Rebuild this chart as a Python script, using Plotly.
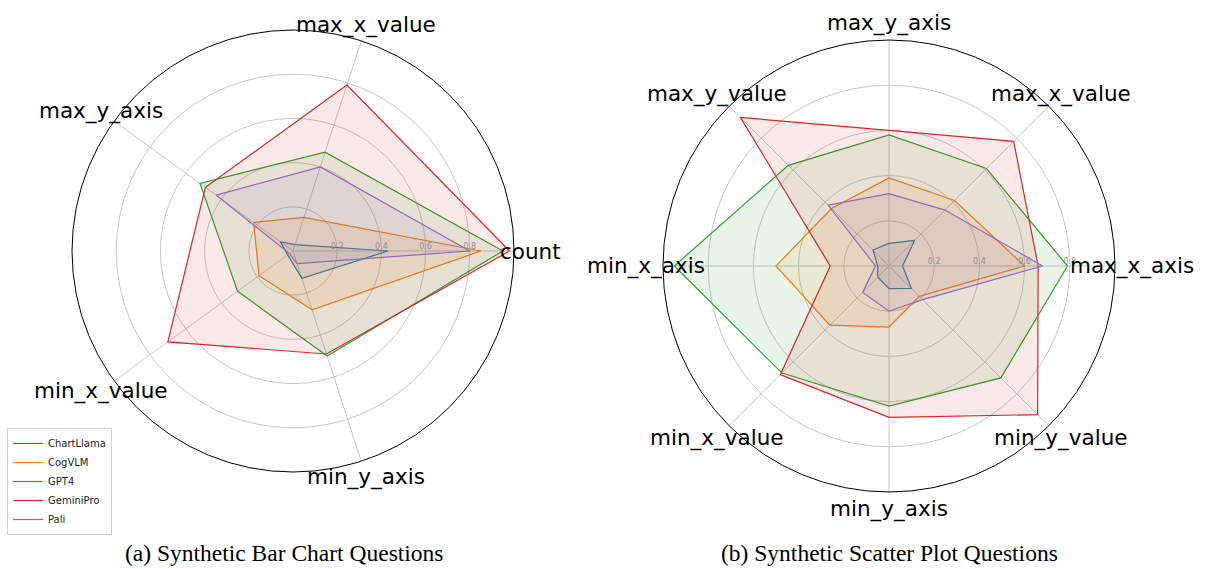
import math
import plotly.graph_objects as go

# ---------------- data ----------------
models = ["ChartLlama", "CogVLM", "GPT4", "GeminiPro", "Pali"]
colors = ["#1f77b4", "#ff7f0e", "#2ca02c", "#d62728", "#9467bd"]

bar_categories = ["count", "max_x_value", "max_y_axis", "min_x_value", "min_y_axis"]
bar_chartllama = [0.43, 0.03, 0.07, 0.03, 0.13]
bar_cogvlm = [0.85, 0.16, 0.22, 0.19, 0.28]
bar_gpt4 = [0.95, 0.47, 0.52, 0.31, 0.50]
bar_geminipro = [0.98, 0.79, 0.49, 0.70, 0.49]
bar_pali = [0.80, 0.40, 0.43, 0.02, 0.06]

scatter_categories = ["max_x_axis", "max_x_value", "max_y_axis", "max_y_value",
                      "min_x_axis", "min_x_value", "min_y_axis", "min_y_value"]
sc_chartllama = [0.06, 0.16, 0.10, 0.10, 0.05, 0.07, 0.10, 0.14]
sc_cogvlm = [0.60, 0.41, 0.39, 0.36, 0.50, 0.37, 0.27, 0.19]
sc_gpt4 = [0.79, 0.61, 0.58, 0.63, 0.95, 0.67, 0.62, 0.70]
sc_geminipro = [0.66, 0.78, 0.60, 0.93, 0.26, 0.68, 0.67, 0.93]
sc_pali = [0.68, 0.35, 0.32, 0.38, 0.06, 0.165, 0.20, 0.21]

radial_ticks = [0.2, 0.4, 0.6, 0.8]
captions = ["(a) Synthetic Bar Chart Questions", "(b) Synthetic Scatter Plot Questions"]

bar_series = [bar_chartllama, bar_cogvlm, bar_gpt4, bar_geminipro, bar_pali]
sc_series = [sc_chartllama, sc_cogvlm, sc_gpt4, sc_geminipro, sc_pali]

# ---------------- layout constants ----------------
W, H = 1205, 569
panels = [
    dict(cx=293, cy=251, R=221, cats=bar_categories, series=bar_series, name="polar", capx=284),
    dict(cx=889, cy=266, R=226, cats=scatter_categories, series=sc_series, name="polar2", capx=889),
]


def rgba(hexc, a):
    h = hexc.lstrip("#")
    return "rgba(%d,%d,%d,%.2f)" % (int(h[0:2], 16), int(h[2:4], 16), int(h[4:6], 16), a)


fig = go.Figure()
annotations = []
for pi, p in enumerate(panels):
    n = len(p["cats"])
    angles = [360.0 * i / n for i in range(n)]
    for mi, (m, vals) in enumerate(zip(models, p["series"])):
        r = list(vals) + [vals[0]]
        th = angles + [angles[0]]
        fig.add_trace(go.Scatterpolar(
            r=r, theta=th, mode="lines", fill="toself",
            fillcolor=rgba(colors[mi], 0.1),
            line=dict(color=rgba(colors[mi], 0), width=0),
            showlegend=False, hoverinfo="skip", subplot=p["name"]))
        fig.add_trace(go.Scatterpolar(
            r=r, theta=th, mode="lines",
            line=dict(color=colors[mi], width=1.2),
            name=m, showlegend=(pi == 0), subplot=p["name"]))
    # category labels
    for cat, a in zip(p["cats"], angles):
        rr = 1.075 * p["R"]
        px = p["cx"] + rr * math.cos(math.radians(a))
        py = p["cy"] - rr * math.sin(math.radians(a))
        annotations.append(dict(
            x=px / W, y=1 - py / H, xref="paper", yref="paper",
            text=cat, showarrow=False, xanchor="center", yanchor="middle",
            font=dict(family="DejaVu Sans", size=21.5, color="black")))
    annotations.append(dict(
        x=p["capx"] / W, y=1 - 553 / H, xref="paper", yref="paper",
        text=captions[pi], showarrow=False, xanchor="center", yanchor="middle",
        font=dict(family="Liberation Serif", size=23.5, color="black")))


def polar_layout(p, n):
    return dict(
        domain=dict(x=[(p["cx"] - p["R"]) / W, (p["cx"] + p["R"]) / W],
                    y=[1 - (p["cy"] + p["R"]) / H, 1 - (p["cy"] - p["R"]) / H]),
        bgcolor="white",
        radialaxis=dict(range=[0, 1], tickvals=radial_ticks, ticktext=[str(t) for t in radial_ticks],
                        showline=False, ticks="", gridcolor="#c8c8c8", gridwidth=1,
                        angle=0, side="counterclockwise",
                        tickfont=dict(family="DejaVu Sans", size=8, color="#909090")),
        angularaxis=dict(type="linear", thetaunit="degrees", rotation=0, direction="counterclockwise",
                         tickvals=[360.0 * i / n for i in range(n)], showticklabels=False, ticks="",
                         gridcolor="#c8c8c8", gridwidth=1, linecolor="black", linewidth=1, showline=True),
    )


fig.update_layout(
    width=W, height=H,
    margin=dict(l=0, r=0, t=0, b=0),
    paper_bgcolor="white",
    polar=polar_layout(panels[0], len(bar_categories)),
    polar2=polar_layout(panels[1], len(scatter_categories)),
    annotations=annotations,
    legend=dict(x=7 / W, y=1 - 428 / H, xanchor="left", yanchor="top",
                bgcolor="white", bordercolor="#d0d0d0", borderwidth=1,
                font=dict(family="DejaVu Sans", size=10, color="#222"),
                itemwidth=30, tracegroupgap=0),
)

fig.write_html("out.html", config={"displayModeBar": False},
               post_script="document.body.style.margin='0';")
